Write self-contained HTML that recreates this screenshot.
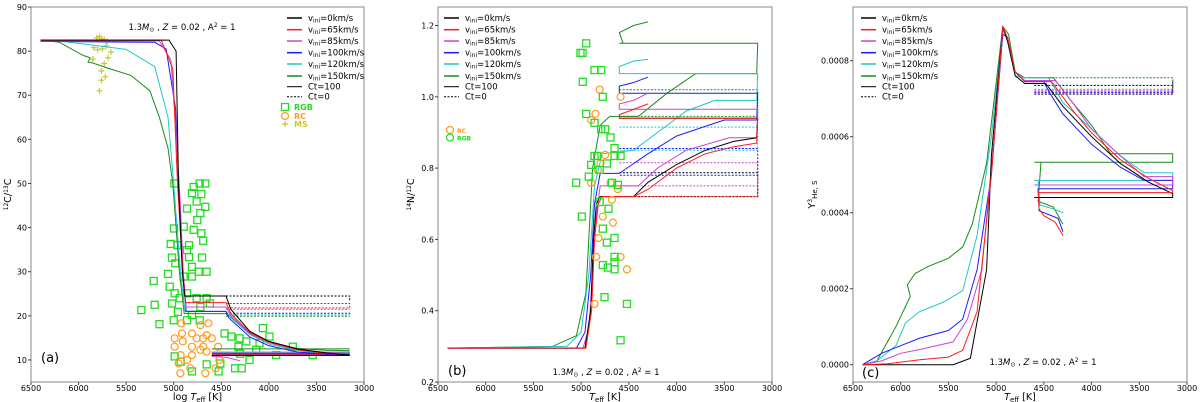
<!DOCTYPE html>
<html><head><meta charset="utf-8">
<style>
html,body{margin:0;padding:0;background:#fff;}
svg{display:block;font-family:"DejaVu Sans","Liberation Sans",sans-serif;}
</style></head>
<body>
<svg id="chart" width="1200" height="402" viewBox="0 0 1200 402" xmlns="http://www.w3.org/2000/svg"></svg>
<script>
// ---------- Panel (a) data : 12C/13C ----------
const aBlack=[[6400,82.5],[5050,82.5],[4975,80],[4950,50],[4910,30],[4885,24.5],[4450,24.5],[4400,21.5],[4200,16.5],[4000,14.2],[3700,12.5],[3400,11.6],[3150,11.1]];
const aBlackDash=[[4450,24.5],[3150,24.5],[3150,23.3]];
const aRed=[[6400,82.5],[5130,82.5],[5010,76],[4960,50],[4905,30],[4875,23],[4450,23],[4400,20.5],[4200,16.2],[4000,14],[3700,12.3],[3400,11.5],[3150,11.1]];
const aRedDash=[[4450,22.8],[3150,22.8],[3150,21.8],[4450,21.8]];
const aMag=[[6400,82.3],[5150,82.3],[5030,78],[4970,60],[4930,45],[4900,30],[4870,22],[4450,22],[4400,20],[4200,16],[4000,13.9],[3700,12.3],[3400,11.7],[3150,11.5]];
const aMagDash=[[4450,21.5],[3150,21.5]];
const aBlue=[[6400,82.2],[5200,82],[5080,80.5],[4980,67],[4940,45],[4900,30],[4870,21],[4450,21],[4420,19.5],[4200,15.2],[4000,13.2],[3700,11.8],[3400,11.3],[3150,11.2]];
const aBlueDash=[[4450,20.6],[3150,20.6],[3150,20.2]];
const aCyan=[[6400,82.5],[6200,82.3],[5900,81.5],[5500,80.4],[5200,76.5],[5060,65],[5000,50],[4930,30],[4880,21],[4450,21],[4400,19.6],[4200,15.8],[4000,13.6],[3700,12.2],[3400,11.6],[3150,11.5]];
const aCyanDash=[[4450,20.2],[3150,20.2]];
const aGreen=[[6400,82.5],[6200,82],[5950,79],[5880,78.5],[5900,77.5],[5850,77.3],[5700,76.2],[5450,74.5],[5250,71],[5150,65],[5060,58],[5010,50],[4940,30],[4890,20.5],[4450,20.5],[4400,19.7],[4200,16],[4000,14],[3700,12.6],[3400,12.2],[3150,12.1]];
const aGreenDash=[[4450,19.9],[3150,19.9]];
const aLowBlack=[[4600,11],[3150,11]];
const aLowRed=[[4600,11.2],[3150,11.2]];
const aLowMag=[[4600,11.6],[3150,11.6]];
const aLowBlue=[[4600,11.4],[3150,11.4]];
const aLowCyan=[[4600,11.8],[3150,11.8]];
const aLowGreen=[[4600,12.5],[3150,12.5]];
const aWiggle=[[4600,10.8],[4450,10.6],[4300,9.8]];
const aRgb=[[4993,50],[4790,49.2],[4727,50],[4668,50],[4808,47.8],[4710,47.6],[4759,45.9],[4668,44.7],[4720,43.3],[4860,44.3],[4752,41.7],[4895,40.2],[4997,39.8],[4790,39.5],[4710,38.7],[4690,37],[5032,36.3],[4962,36],[4839,36],[4860,34.9],[5018,33.2],[4702,33.2],[4839,33.3],[4983,31.9],[4808,31.1],[5060,29.5],[4654,30],[4738,30],[4895,28.9],[4808,28.9],[5210,27.9],[5042,26.6],[4990,25.1],[4937,24],[4860,25.1],[4759,24],[4654,24],[5018,22.8],[4720,22],[4620,22.8],[5200,22.5],[5340,21.3],[4955,20.9],[4808,20.2],[5000,19],[4860,19],[4727,19],[5150,18.1],[4465,16],[4395,15.3],[4307,14.9],[4237,14.2],[4063,17.2],[3993,15.3],[4133,12.3],[4098,13.8],[3748,13],[3923,11.1],[3538,11.1],[4203,10],[4990,10.8],[4927,9.6],[4510,9.2],[4355,8.1],[4285,8.1],[4654,9],[4808,7.4],[4528,7.4],[4303,11.4],[4320,13]];
const aRc=[[4920,18.3],[4720,17.9],[4635,18.3],[4990,14.9],[4913,16],[4808,16],[4759,14.9],[4690,14.9],[4600,14.9],[4990,13],[4905,14.2],[4808,13],[4720,12.3],[4654,11.9],[4533,13],[4927,11.1],[4808,11.1],[4860,10],[4948,9.2],[4825,8.1],[4930,7],[4668,7],[4520,10],[4560,8.1],[4690,13],[4654,15.6]];
const aMs=[[5810,83],[5780,83.3],[5760,82.8],[5730,82.6],[5700,82.2],[5840,80.8],[5800,80.3],[5750,80.5],[5710,81.2],[5660,79.8],[5690,78.5],[5850,78.2],[5730,77.2],[5760,75.5],[5720,74.2],[5760,73.4],[5780,71]];
const aYTicks=[10,20,30,40,50,60,70,80,90];

// ---------- Panel (b) data : 14N/12C ----------
const bBlack=[[6400,0.295],[4960,0.295],[4900,0.4],[4870,0.6],[4840,0.7],[4800,0.72],[4450,0.72],[4300,0.76],[4000,0.81],[3700,0.85],[3400,0.875],[3160,0.885],[3150,0.94],[4600,0.94]];
const bBlackDash=[[4600,0.787],[3150,0.787],[3150,0.72],[4450,0.72]];
const bRed=[[6400,0.295],[4950,0.295],[4890,0.4],[4860,0.6],[4820,0.7],[4780,0.72],[4450,0.72],[4300,0.74],[4000,0.8],[3700,0.84],[3400,0.86],[3160,0.87],[3150,0.94],[4600,0.94],[4600,0.95],[4500,0.96],[4300,0.98]];
const bRedDash=[[4450,0.72],[3150,0.72],[3150,0.78]];
const bMag=[[6400,0.295],[4980,0.295],[4920,0.35],[4880,0.5],[4850,0.65],[4800,0.75],[4400,0.75],[4200,0.8],[3900,0.85],[3450,0.885],[3160,0.885],[3150,0.965],[4600,0.965],[4600,0.98],[4450,0.99],[4300,1.01]];
const bMagDash=[[4600,0.815],[3150,0.815],[3150,0.75],[4600,0.75]];
const bBlue=[[6400,0.295],[5050,0.295],[4960,0.34],[4900,0.5],[4860,0.7],[4800,0.785],[4600,0.785],[4300,0.84],[4000,0.89],[3500,0.935],[3160,0.935],[3150,1.01],[4600,1.01],[4600,1.03],[4450,1.04],[4300,1.055]];
const bBlueDash=[[4600,0.855],[3150,0.855],[3150,0.78],[4600,0.78]];
const bCyan=[[6400,0.295],[5150,0.3],[5000,0.34],[4920,0.5],[4860,0.75],[4780,0.84],[4450,0.85],[4200,0.9],[3900,0.96],[3600,0.99],[3160,0.99],[3150,1.065],[4600,1.065],[4600,1.085],[4450,1.1],[4300,1.105]];
const bCyanDash=[[4600,0.915],[3150,0.915],[3150,0.85],[4600,0.85]];
const bGreen=[[6400,0.295],[5300,0.3],[5050,0.33],[4950,0.45],[4880,0.8],[4800,0.92],[4700,0.945],[4400,0.945],[4100,1.01],[3800,1.065],[3160,1.065],[3150,1.15],[4600,1.15],[4560,1.15],[4600,1.18],[4450,1.2],[4300,1.21]];
const bGreenDash=[[4600,1.02],[3150,1.02],[3150,0.945],[4600,0.945]];
const bRgb=[[4947,1.15],[4985,1.123],[5007,1.123],[4860,1.075],[4790,1.075],[4983,1.042],[4773,1.0],[4947,0.952],[4860,0.927],[4790,0.909],[4748,0.909],[4692,0.886],[4650,0.856],[4860,0.834],[4832,0.834],[4650,0.834],[4587,0.834],[4895,0.809],[4730,0.813],[4806,0.795],[5052,0.759],[4920,0.776],[4678,0.759],[4615,0.753],[4806,0.705],[4713,0.686],[4993,0.664],[4773,0.63],[4730,0.591],[4650,0.604],[4650,0.551],[4650,0.536],[4773,0.528],[4720,0.521],[4650,0.516],[4755,0.438],[4520,0.419],[4587,0.317]];
const bRc=[[4806,1.02],[4587,1.0],[4850,0.952],[4895,0.935],[4748,0.837],[4797,0.813],[4825,0.795],[4895,0.759],[4692,0.759],[4615,0.741],[4678,0.711],[4773,0.664],[4667,0.647],[4818,0.604],[4843,0.551],[4587,0.551],[4520,0.516],[4860,0.419]];
const bYTicks=[0.2,0.4,0.6,0.8,1.0,1.2];

// ---------- Panel (c) data : Y(3He) ----------
const cBlack=[[6400,0],[5450,0],[5270,0.000017],[5100,0.00025],[5050,0.00055],[4930,0.00089],[4880,0.00085],[4800,0.00076],[4700,0.00074],[4480,0.00074],[4300,0.00068],[4000,0.0006],[3700,0.00053],[3400,0.00048],[3150,0.00045],[3150,0.00044],[4600,0.00044]];
const cBlackDash=[[4600,0.000712],[3150,0.000712],[3150,0.000735],[4600,0.000735]];
const cRed=[[6400,0],[6150,0.000002],[5800,0.000013],[5500,0.00002],[5350,0.000038],[5200,0.00014],[5050,0.0005],[4930,0.00089],[4880,0.00086],[4800,0.00077],[4700,0.000745],[4420,0.000745],[4200,0.00067],[4000,0.00061],[3700,0.00054],[3400,0.00049],[3150,0.000458],[3150,0.000453],[4560,0.000453],[4560,0.00046],[4550,0.00041],[4500,0.000392],[4380,0.000375],[4300,0.00034]];
const cRedDash=[[4600,0.000718],[3150,0.000718],[3150,0.000745]];
const cMag=[[6400,0],[6200,0.00001],[6000,0.00003],[5800,0.00004],[5450,0.00006],[5300,0.00012],[5150,0.00025],[5000,0.00065],[4930,0.000885],[4880,0.00086],[4800,0.00077],[4700,0.000748],[4380,0.000748],[4200,0.00069],[4000,0.00062],[3700,0.00055],[3450,0.000495],[3150,0.000495],[3150,0.000473],[4600,0.000473]];
const cMagDash=[[4600,0.000722],[3150,0.000722],[3150,0.000748]];
const cBlue=[[6400,0],[6200,0.00003],[6000,0.00005],[5800,0.00007],[5500,0.00009],[5350,0.00012],[5200,0.00025],[5050,0.0005],[4930,0.00087],[4880,0.00086],[4800,0.00077],[4700,0.000745],[4500,0.000745],[4450,0.00072],[4300,0.00066],[4000,0.00058],[3700,0.00052],[3450,0.000485],[3150,0.000485],[3150,0.000463],[4560,0.000463],[4550,0.000405],[4400,0.00039],[4350,0.000385],[4300,0.00035]];
const cBlueDash=[[4600,0.000716],[3150,0.000716],[3150,0.000748]];
const cCyan=[[6400,0],[6250,0.00001],[6050,0.00005],[5950,0.00011],[5800,0.00014],[5550,0.000165],[5350,0.000195],[5200,0.00034],[5050,0.0006],[4930,0.00088],[4880,0.00086],[4800,0.00076],[4700,0.000755],[4450,0.000755],[4300,0.00069],[4000,0.00062],[3700,0.00055],[3450,0.000505],[3150,0.000505],[3150,0.000485],[4600,0.000485],[4560,0.000485],[4540,0.00042],[4400,0.00041],[4300,0.0004]];
const cCyanDash=[[4600,0.000725],[3150,0.000725]];
const cGreen=[[6400,0],[6250,0.00001],[6050,0.0001],[5900,0.00018],[5930,0.00021],[5850,0.00024],[5700,0.00026],[5500,0.00028],[5350,0.00031],[5250,0.00037],[5100,0.00053],[4930,0.00089],[4870,0.00087],[4800,0.00077],[4700,0.000755],[4400,0.000755],[4200,0.00069],[4000,0.00063],[3800,0.000555],[3150,0.000555],[3150,0.000533],[4600,0.000533],[4530,0.000533],[4560,0.00043],[4400,0.000415],[4300,0.00037]];
const cGreenDash=[[4600,0.000755],[3150,0.000755],[3150,0.000725]];
const cYTicks=[0,0.0002,0.0004,0.0006,0.0008];

const xTicks=[6500,6000,5500,5000,4500,4000,3500,3000];
const legendLabels=['0','65','85','100','120','150'];

// ---------- drawing ----------
const NS='http://www.w3.org/2000/svg';
const svg=document.getElementById('chart');
const COL={k:'#000000',r:'#ff1a1a',m:'#cc44cc',b:'#1a1aff',c:'#1fc8c8',g:'#1a8a1a'};
function mk(tag,parent){const e=document.createElementNS(NS,tag);parent.appendChild(e);return e;}

function makePanel(name,x0,x1,yTop,yBot,vMin,vMax){
  const p={x0,x1,yTop,yBot};
  p.sx=t=>x0+(6500-t)/3500*(x1-x0);
  p.sy=v=>yBot-(v-vMin)/(vMax-vMin)*(yBot-yTop);
  p.g=mk('g',svg);
  
  
  return p;
}
function line(p,data,color,dash,name,w){
  const e=mk('polyline',p.g);
  e.setAttribute('points',data.map(d=>p.sx(d[0]).toFixed(1)+','+p.sy(d[1]).toFixed(1)).join(' '));
  e.setAttribute('fill','none');e.setAttribute('stroke',color);e.setAttribute('stroke-width',w||1);
  if(dash)e.setAttribute('stroke-dasharray','2,1.5');
  
  
}
function text(parent,x,y,s,opts){
  const e=mk('text',parent);
  e.setAttribute('x',x);e.setAttribute('y',y);
  e.setAttribute('font-size',opts.size||9);
  if(opts.anchor)e.setAttribute('text-anchor',opts.anchor);
  if(opts.fill)e.setAttribute('fill',opts.fill);
  if(opts.weight)e.setAttribute('font-weight',opts.weight);
  if(opts.rot)e.setAttribute('transform','rotate(-90 '+x+' '+y+')');
  e.innerHTML=s;
  return e;
}
function axes(p,yTicks,fmt,xlabel,ylabel,ylx){
  const r=mk('rect',p.g);
  r.setAttribute('x',p.x0);r.setAttribute('y',p.yTop);r.setAttribute('width',p.x1-p.x0);r.setAttribute('height',p.yBot-p.yTop);
  r.setAttribute('fill','none');r.setAttribute('stroke','#888');r.setAttribute('stroke-width',1);
  
  
  xTicks.forEach(t=>{
    const x=p.sx(t);
    const l=mk('line',p.g);l.setAttribute('x1',x);l.setAttribute('x2',x);l.setAttribute('y1',p.yBot);l.setAttribute('y2',p.yBot+3);l.setAttribute('stroke','#444');
    
    
    const tx=text(p.g,x,p.yBot+9,t,{anchor:'middle',size:8});
    
    
  });
  yTicks.forEach(v=>{
    const y=p.sy(v);
    const l=mk('line',p.g);l.setAttribute('x1',p.x0-3);l.setAttribute('x2',p.x0);l.setAttribute('y1',y);l.setAttribute('y2',y);l.setAttribute('stroke','#444');
    
    
    const tx=text(p.g,p.x0-4,y+3,fmt(v),{anchor:'end',size:8});
    
    
  });
  const xl=text(p.g,(p.x0+p.x1)/2,400,xlabel,{anchor:'middle',size:9.5});
  
  
  const yl=text(p.g,ylx,(p.yTop+p.yBot)/2,ylabel,{anchor:'middle',size:9.5,rot:true});
  
  
}
function series(p,list){
  list.forEach(s=>line(p,s[0],COL[s[1]],s[2],s[3]));
}
function scatter(p,data,kind,color,name){
  data.forEach(d=>{
    const x=p.sx(d[0]),y=p.sy(d[1]);let e;
    if(kind==='sq'){e=mk('rect',p.g);e.setAttribute('x',x-3.5);e.setAttribute('y',y-3.5);e.setAttribute('width',7);e.setAttribute('height',7);e.setAttribute('fill','none');e.setAttribute('stroke',color);e.setAttribute('stroke-width',1.3);}
    else if(kind==='ci'){e=mk('circle',p.g);e.setAttribute('cx',x);e.setAttribute('cy',y);e.setAttribute('r',3.5);e.setAttribute('fill','none');e.setAttribute('stroke',color);e.setAttribute('stroke-width',1.2);}
    else {e=mk('path',p.g);e.setAttribute('d','M'+(x-3)+' '+y+'h6M'+x+' '+(y-3)+'v6');e.setAttribute('stroke',color);e.setAttribute('stroke-width',1.2);}
    
    
  });
}
function legend(p,lx,y0,extra){
  const cols=['k','r','m','b','c','g'];
  const g=mk('g',p.g);
  
  
  const rows=[];
  cols.forEach((c,i)=>rows.push([COL[c],false,'v<tspan font-size="6" dy="1.5">ini</tspan><tspan dy="-1.5">=</tspan>'+legendLabels[i]+'km/s',1.5]));
  rows.push(['#000',false,'Ct=100',1]);rows.push(['#000',true,'Ct=0',1]);
  const ys=[18,29.7,41,52.7,64,76,86.7,96.7];
  rows.forEach((r,i)=>{
    const l=mk('line',g);l.setAttribute('x1',lx);l.setAttribute('x2',lx+15);l.setAttribute('y1',ys[i]);l.setAttribute('y2',ys[i]);
    l.setAttribute('stroke',r[0]);l.setAttribute('stroke-width',r[3]);if(r[1])l.setAttribute('stroke-dasharray','2,1.5');
    
    
    const t=text(g,lx+21,ys[i]+3,r[2],{size:8.5});
    
    
  });
}
const ann='1.3<tspan font-style="italic">M</tspan><tspan font-size="6" dy="1.5">⊙</tspan><tspan dy="-1.5"> , </tspan><tspan font-style="italic">Z</tspan> = 0.02 , A<tspan font-size="6" dy="-3">2</tspan><tspan dy="3"> = 1</tspan>';
const teff='<tspan font-style="italic">T</tspan><tspan font-size="7" dy="2">eff</tspan><tspan dy="-2"> [K]</tspan>';

// Panel a
const A=makePanel('panel-a-c12-c13',31,364,7,382,5,90);
axes(A,aYTicks,v=>String(v),'log '+teff,'<tspan font-size="6" dy="-3">12</tspan><tspan dy="3">C/</tspan><tspan font-size="6" dy="-3">13</tspan><tspan dy="3">C</tspan>',11);
scatter(A,aRgb,'sq','#22dd22','rgb-star');
scatter(A,aRc,'ci','#ff9a1a','rc-star');
scatter(A,aMs,'pl','#c8c83a','ms-star');
series(A,[[aBlackDash,'k',true,'ct0-0kms'],[aRedDash,'r',true,'ct0-65kms'],[aMagDash,'m',true,'ct0-85kms'],[aBlueDash,'b',true,'ct0-100kms'],[aCyanDash,'c',true,'ct0-120kms'],[aGreenDash,'g',true,'ct0-150kms'],
 [aLowBlack,'k',false,'rc-0kms'],[aLowRed,'r',false,'rc-65kms'],[aLowMag,'m',false,'rc-85kms'],[aLowBlue,'b',false,'rc-100kms'],[aLowCyan,'c',false,'rc-120kms'],[aLowGreen,'g',false,'rc-150kms'],[aWiggle,'m',false,'rc-start'],
 [aGreen,'g',false,'track-150kms'],[aCyan,'c',false,'track-120kms'],[aBlue,'b',false,'track-100kms'],[aMag,'m',false,'track-85kms'],[aRed,'r',false,'track-65kms'],[aBlack,'k',false,'track-0kms']]);
legend(A,287,18);
[['RGB','#22dd22',107],['RC','#ff9a1a',116],['MS','#c8c83a',124]].forEach((r,i)=>{
  const t=text(A.g,294,r[2]+3,r[0],{size:8,fill:r[1],weight:'bold'});
  
  
});
scatter({sx:()=>285,sy:()=>107,g:A.g},[[0,0]],'sq','#22dd22','legend-marker');
scatter({sx:()=>285,sy:()=>116,g:A.g},[[0,0]],'ci','#ff9a1a','legend-marker');
scatter({sx:()=>285,sy:()=>124,g:A.g},[[0,0]],'pl','#c8c83a','legend-marker');
let t1=text(A.g,182,30,ann,{anchor:'middle',size:8.5});
let p1=text(A.g,41,362,'(a)',{size:13});

// Panel b
const B=makePanel('panel-b-n14-c12',438,772,7,382,0.2,1.2+19/356.5*1.0);
B.sy=v=>382-(v-0.2)*356.5;
axes(B,bYTicks,v=>v.toFixed(1),teff,'<tspan font-size="6" dy="-3">14</tspan><tspan dy="3">N/</tspan><tspan font-size="6" dy="-3">12</tspan><tspan dy="3">C</tspan>',414);
series(B,[[bBlackDash,'k',true,'ct0-0kms'],[bRedDash,'r',true,'ct0-65kms'],[bMagDash,'m',true,'ct0-85kms'],[bBlueDash,'b',true,'ct0-100kms'],[bCyanDash,'c',true,'ct0-120kms'],[bGreenDash,'g',true,'ct0-150kms'],
 [bGreen,'g',false,'track-150kms'],[bCyan,'c',false,'track-120kms'],[bBlue,'b',false,'track-100kms'],[bMag,'m',false,'track-85kms'],[bBlack,'k',false,'track-0kms'],[bRed,'r',false,'track-65kms']]);
scatter(B,bRc,'ci','#ff9a1a','rc-star');
scatter(B,bRgb,'sq','#22dd22','rgb-star');
legend(B,444,18);
scatter({sx:()=>450,sy:()=>130,g:B.g},[[0,0]],'ci','#ff9a1a','legend-marker');
scatter({sx:()=>450,sy:()=>137.5,g:B.g},[[0,0]],'ci','#22dd22','legend-marker');
let tb1=text(B.g,457,133,'RC',{size:6,fill:'#ff9a1a',weight:'bold'});
let tb2=text(B.g,457,140.5,'RGB',{size:6,fill:'#22dd22',weight:'bold'});
let t2=text(B.g,606,375,ann,{anchor:'middle',size:8.5});
let p2=text(B.g,448,375,'(b)',{size:13});

// Panel c
const C=makePanel('panel-c-he3',853,1187,7,382,0,1);
C.sy=v=>364.7-v*380000;
axes(C,cYTicks,v=>v.toFixed(4),teff,'Y<tspan font-size="6" dy="-3">3</tspan><tspan font-size="7" dy="5">He, S</tspan>',815);
series(C,[[cBlackDash,'k',true,'ct0-0kms'],[cRedDash,'r',true,'ct0-65kms'],[cMagDash,'m',true,'ct0-85kms'],[cBlueDash,'b',true,'ct0-100kms'],[cCyanDash,'c',true,'ct0-120kms'],[cGreenDash,'g',true,'ct0-150kms'],
 [cGreen,'g',false,'track-150kms'],[cCyan,'c',false,'track-120kms'],[cBlue,'b',false,'track-100kms'],[cMag,'m',false,'track-85kms'],[cBlack,'k',false,'track-0kms'],[cRed,'r',false,'track-65kms']]);
legend(C,861,18);
let t3=text(C.g,1043,365,ann,{anchor:'middle',size:8.5});
let p3=text(C.g,862,377,'(c)',{size:13});
</script>
</body></html>
